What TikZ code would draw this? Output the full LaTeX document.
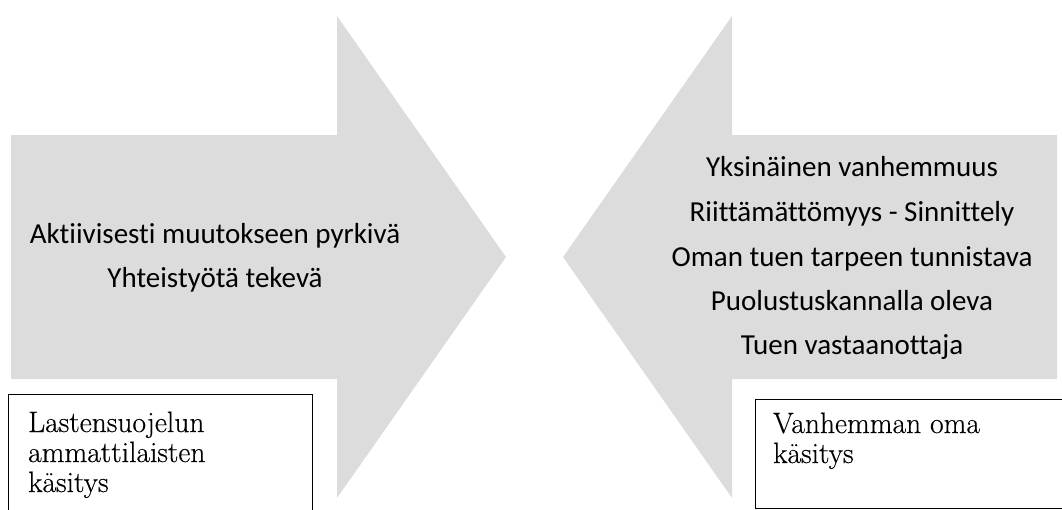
\documentclass[tikz,border=0pt]{standalone}
\usepackage{fontspec}
\newfontfamily\carlito[Ligatures=NoCommon]{Carlito}
\newfontfamily\boxserif{Latin Modern Roman}[FakeBold=0.4]
\definecolor{arrowgray}{HTML}{DCDCDC}
\begin{document}
\begin{tikzpicture}[x=1pt,y=-1pt,
  arrowshape/.style={fill=arrowgray,draw=none},
  labelbox/.style={draw=black,line width=1pt,fill=white},
  arrowtext/.style={font=\carlito\fontsize{29}{35}\selectfont,anchor=base,inner sep=0pt},
  boxtext/.style={font=\boxserif\fontsize{29.5}{30}\selectfont,anchor=base west,inner sep=0pt}]
\useasboundingbox (0,0) rectangle (1062,509);
\clip (0,0) rectangle (1062,509);
% left arrow (pointing right)
\fill[arrowshape] (11,135) -- (337,135) -- (337,16) -- (506,257) -- (337,498) -- (337,379) -- (11,379) -- cycle;
% right arrow (pointing left)
\fill[arrowshape] (1057,135) -- (732,135) -- (732,16) -- (563,257) -- (732,498) -- (732,379) -- (1057,379) -- cycle;
% boxes
\draw[labelbox] (8,394) rectangle (312,530);
\draw[labelbox] (755,399) rectangle (1080,508);
% left arrow text
\node[arrowtext] (l1) at (215,243) {Aktiivisesti muutokseen pyrkivä};
\node[arrowtext] (l2) at (215,287) {Yhteistyötä tekevä};
% right arrow text
\node[arrowtext] (r1) at (852,176) {Yksinäinen vanhemmuus};
\node[arrowtext] (r2) at (852,221) {Riittämättömyys - Sinnittely};
\node[arrowtext] (r3) at (852,266) {Oman tuen tarpeen tunnistava};
\node[arrowtext] (r4) at (852,310) {Puolustuskannalla oleva};
\node[arrowtext] (r5) at (852,354) {Tuen vastaanottaja};
% box texts
\node[boxtext] (b1) at (28,432) {Lastensuojelun};
\node[boxtext] (b2) at (28,462) {ammattilaisten};
\node[boxtext] (b3) at (28,492) {käsitys};
\node[boxtext] (c1) at (773,433) {Vanhemman oma};
\node[boxtext] (c2) at (773,463) {käsitys};
\end{tikzpicture}
\end{document}
